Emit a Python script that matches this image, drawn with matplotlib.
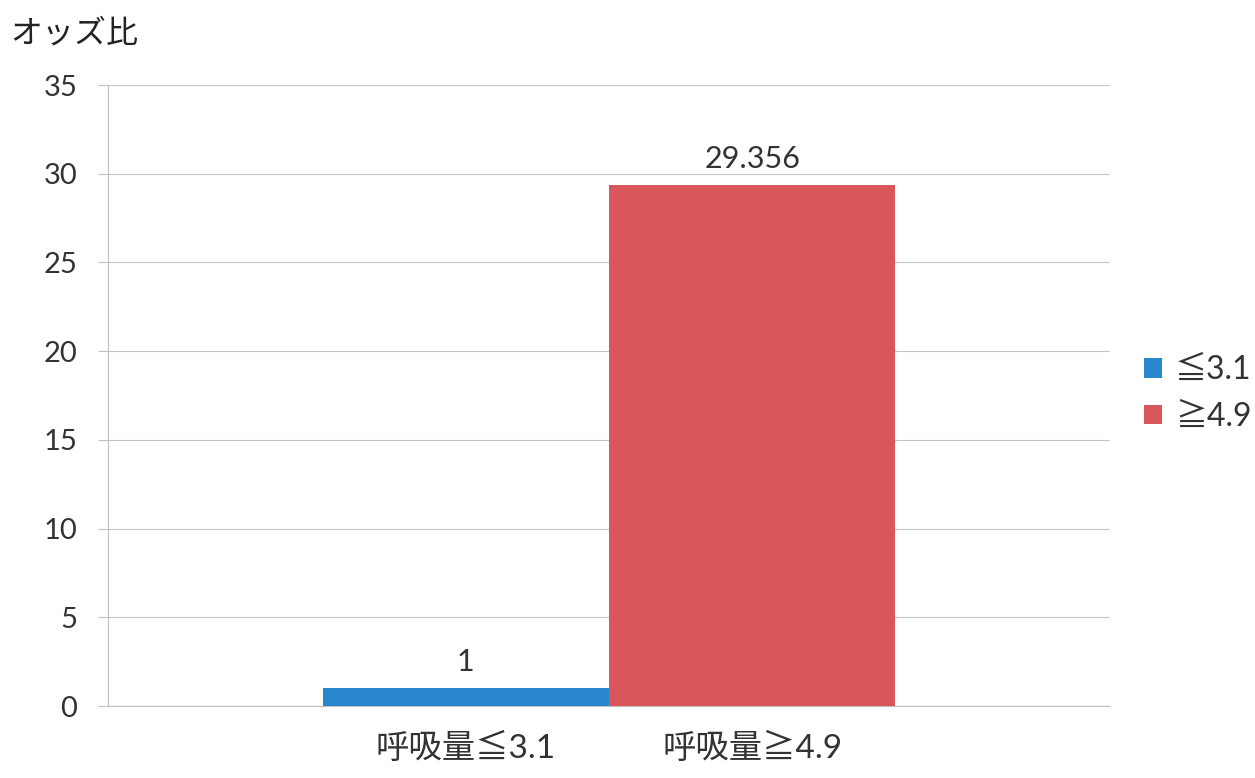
import matplotlib
matplotlib.use("Agg")
import matplotlib.pyplot as plt
from matplotlib.patches import Patch

plt.rcParams['font.family'] = ['Lato', 'Noto Sans CJK JP', 'DejaVu Sans']

categories = ['呼吸量≦3.1', '呼吸量≧4.9']
legend_labels = ['≦3.1', '≧4.9']
values = [1, 29.356]
value_labels = ['1', '29.356']
colors = ['#2A87CE', '#D9575B']
y_ticks = [0, 5, 10, 15, 20, 25, 30, 35]

fig = plt.figure(figsize=(12.55, 7.78), dpi=100)
ax = fig.add_axes([0.086, 0.0925, 0.7985, 0.7982])

x = list(range(len(categories)))
bars = ax.bar(x, values, width=1.0, color=colors, zorder=3)
for xi, v, lab in zip(x, values, value_labels):
    ax.text(xi, v + 0.7, lab, ha='center', va='bottom', fontsize=22, color='#333333')

ax.set_xlim(-1.25, 2.25)
ax.set_ylim(0, 35)
ax.set_yticks(y_ticks)
ax.set_yticklabels([str(t) for t in y_ticks], fontsize=21, color='#333333')
ax.set_xticks(x)
ax.set_xticklabels(categories, fontsize=24, color='#333333')
ax.tick_params(axis='x', length=0, pad=19)
ax.tick_params(axis='y', length=7, color='#bfbfbf', width=0.8, pad=15)
ax.yaxis.grid(True, color='#c4c4c4', linewidth=0.8, zorder=0)
for s in ['top', 'right']:
    ax.spines[s].set_visible(False)
ax.spines['left'].set_color('#bfbfbf')
ax.spines['left'].set_linewidth(0.8)
ax.spines['bottom'].set_color('#bfbfbf')
ax.spines['bottom'].set_linewidth(0.8)

fig.text(0.008, 0.957, 'オッズ比', fontsize=23, ha='left', va='center', color='#222222')

handles = [Patch(facecolor=c, edgecolor='none') for c in colors]
fig.legend(handles, legend_labels, loc='center left', bbox_to_anchor=(0.889, 0.494),
           frameon=False, fontsize=23, handlelength=0.55, handleheight=0.55,
           handletextpad=0.4, labelspacing=0.53, labelcolor='#333333')

fig.savefig('out.png', dpi=100)
